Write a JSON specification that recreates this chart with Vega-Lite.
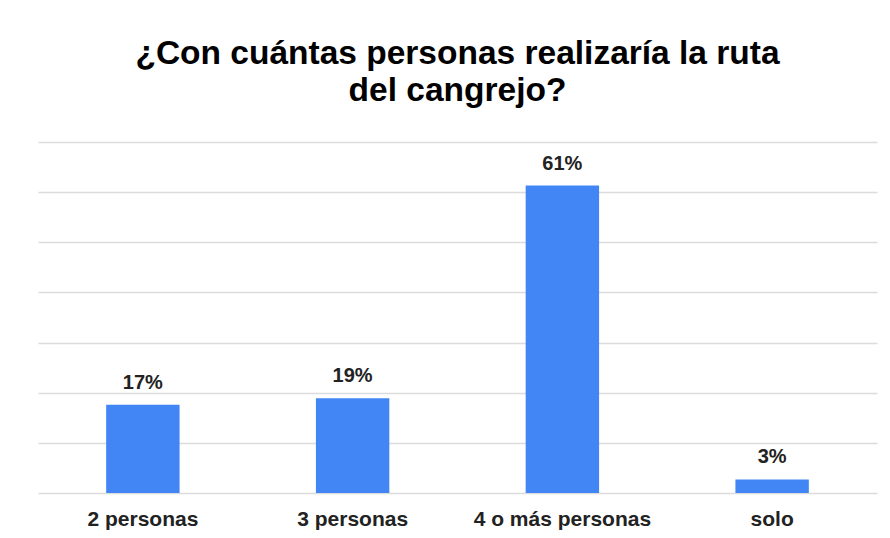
{
  "$schema": "https://vega.github.io/schema/vega-lite/v6.json",
  "autosize": "none",
  "width": 839,
  "height": 351,
  "padding": {"left": 38, "top": 142, "right": 13, "bottom": 45},
  "background": "white",
  "title": {
    "text": ["¿Con cuántas personas realizaría la ruta", "del cangrejo?"],
    "anchor": "middle",
    "frame": "group",
    "font": "Liberation Sans",
    "fontSize": 33.5,
    "fontWeight": "bold",
    "lineHeight": 37,
    "color": "#000000",
    "offset": 34
  },
  "config": {
    "view": {"stroke": null},
    "font": "Liberation Sans"
  },
  "data": {
    "values": [
      {"grupo": "2 personas", "pct": 17.6, "label": "17%"},
      {"grupo": "3 personas", "pct": 18.9, "label": "19%"},
      {"grupo": "4 o más personas", "pct": 61.3, "label": "61%"},
      {"grupo": "solo", "pct": 2.7, "label": "3%"}
    ]
  },
  "encoding": {
    "x": {
      "field": "grupo",
      "type": "nominal",
      "sort": null,
      "scale": {"paddingInner": 0.65, "paddingOuter": 0.325},
      "axis": {
        "title": null,
        "labelAngle": 0,
        "domain": false,
        "ticks": false,
        "labelFont": "Liberation Sans",
        "labelFontSize": 21,
        "labelFontWeight": "bold",
        "labelColor": "#222222",
        "labelPadding": 15
      }
    },
    "y": {
      "field": "pct",
      "type": "quantitative",
      "scale": {"domain": [0, 70], "nice": false},
      "axis": {
        "title": null,
        "labels": false,
        "ticks": false,
        "domain": false,
        "values": [0, 10, 20, 30, 40, 50, 60, 70],
        "grid": true,
        "gridColor": "#dcdcdc",
        "gridWidth": 1.5
      }
    }
  },
  "layer": [
    {"mark": {"type": "bar", "color": "#4285F4"}},
    {
      "mark": {
        "type": "text",
        "baseline": "alphabetic",
        "dy": -16,
        "font": "Liberation Sans",
        "fontSize": 20,
        "fontWeight": "bold",
        "color": "#222222"
      },
      "encoding": {"text": {"field": "label"}}
    }
  ]
}
